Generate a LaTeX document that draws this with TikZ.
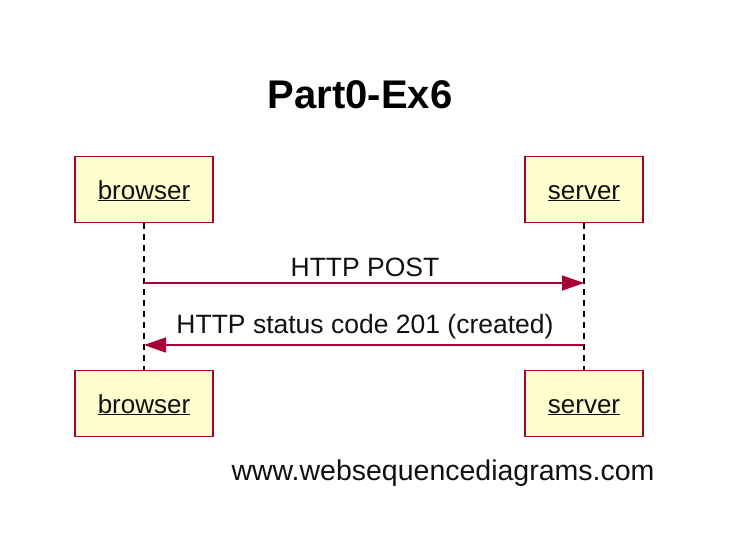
\documentclass[tikz,border=0pt]{standalone}
\usepackage{fontspec}
\setmainfont{Liberation Sans}
\usetikzlibrary{arrows.meta}
\definecolor{actorfill}{HTML}{FEFECE}
\definecolor{actorline}{HTML}{A80036}
\definecolor{txt}{HTML}{111111}
\begin{document}
\begin{tikzpicture}[x=1pt,y=-1pt,
  actor/.style={draw=actorline,fill=actorfill,line width=1.5pt,minimum width=138pt,minimum height=66pt,inner sep=0pt,text height=22pt,text depth=3pt,text=txt,font=\fontsize{26}{30}\selectfont},
  lifeline/.style={draw=black,line width=1.2pt,dash pattern=on 6pt off 5pt},
  msg/.style={draw=actorline,line width=1.6pt,-{Triangle[length=22pt,width=15pt]}},
  msglabel/.style={font=\fontsize{26.5}{30}\selectfont,inner sep=0pt,text=txt}]
\useasboundingbox (0,0) rectangle (752,558);
\node[font=\bfseries\fontsize{40}{46}\selectfont] (title) at (360,95) {Part0-Ex6};
\node[actor] (bt) at (144,189.5) {\underline{browser}};
\node[actor,minimum width=118pt] (st) at (584,189.5) {\underline{server}};
\node[actor] (bb) at (144,403.5) {\underline{browser}};
\node[actor,minimum width=118pt] (sb) at (584,403.5) {\underline{server}};
\draw[lifeline] (bt.south) -- (bb.north);
\draw[lifeline] (st.south) -- (sb.north);
\coordinate (b1) at (144,283);
\coordinate (s1) at (584,283);
\coordinate (b2) at (144,345);
\coordinate (s2) at (584,345);
\draw[msg] (b1) -- (s1);
\draw[msg] (s2) -- (b2);
\node[msglabel] (l1) at (365,267) {HTTP POST};
\node[msglabel] (l2) at (365,327) {HTTP status code 201 (created)};
\node[font=\fontsize{28.5}{32}\selectfont,text=txt] (wm) at (443,473) {www.websequencediagrams.com};
\end{tikzpicture}
\end{document}
